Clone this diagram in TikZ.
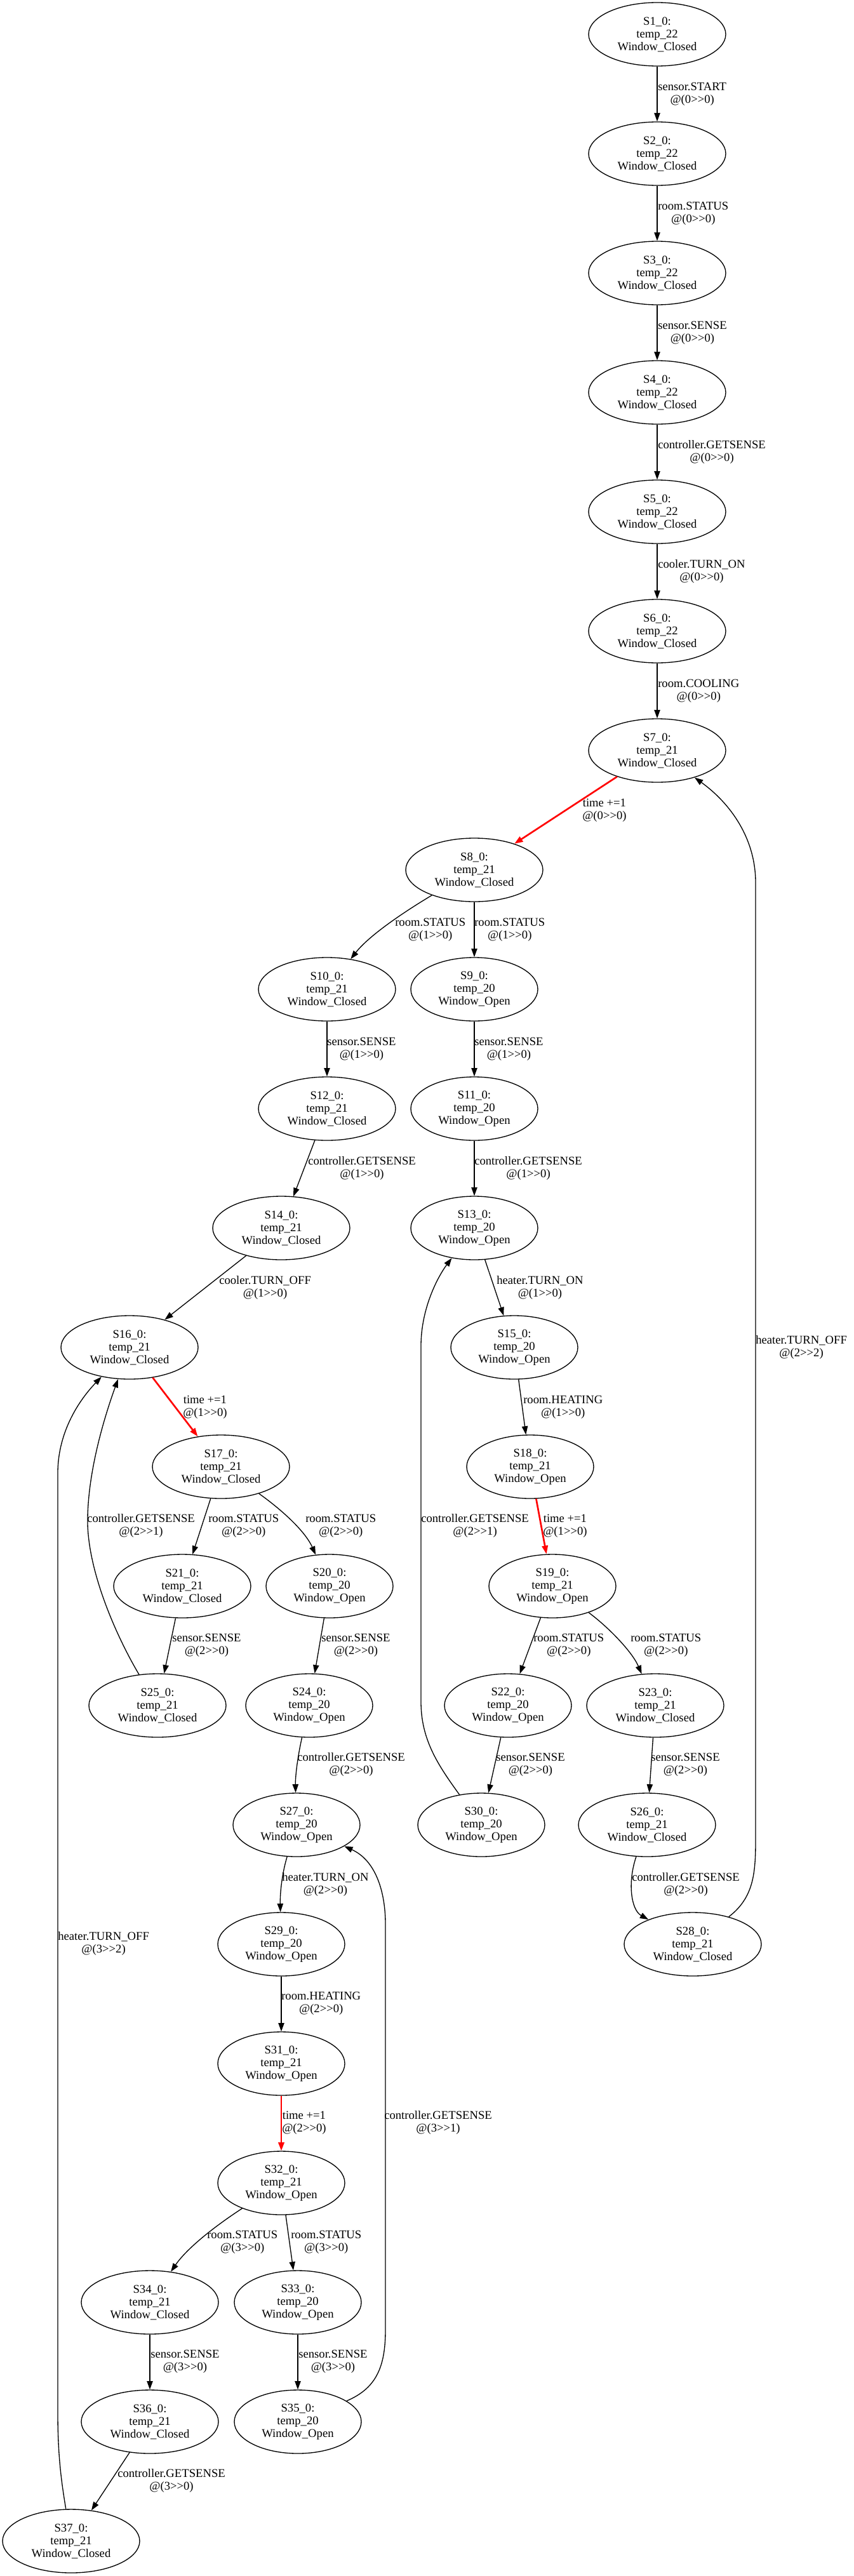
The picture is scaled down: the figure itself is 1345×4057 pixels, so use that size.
\documentclass[tikz,border=0pt]{standalone}
\usepackage{fontspec}
\setmainfont{Liberation Serif}
\usetikzlibrary{shapes.geometric,arrows.meta}
\newcommand\SN[5]{\node[#1] (n#2) at (#3) {S#2\_0:\\temp\_#4\\Window\_#5};}
\newcommand\LB[3]{\node[lbl] (#1) at (#2) {#3};}
\newcommand\at[2]{@(#1>\kern0pt>#2)}
\begin{document}
\begin{tikzpicture}[x=0.75pt,y=-0.75pt,
  every node/.style={font=\fontsize{14}{15}\selectfont},
  st/.style={ellipse,draw,line width=1pt,inner sep=0pt,minimum height=75pt,align=center},
  wc/.style={st,minimum width=162pt},
  wo/.style={st,minimum width=150pt},
  lbl/.style={anchor=west,align=center,inner sep=0pt},
  tr/.style={draw,line width=1pt,-{Triangle[length=10pt,width=7pt]}},
  tred/.style={draw=red,line width=2pt,-{Triangle[length=10pt,width=7pt]},fill=red}]
\useasboundingbox (0,0) rectangle (1345,4057);
% states
\SN{wc}{1}{1035,54}{22}{Closed}
\SN{wc}{2}{1035,242}{22}{Closed}
\SN{wc}{3}{1035,430}{22}{Closed}
\SN{wc}{4}{1035,618}{22}{Closed}
\SN{wc}{5}{1035,806}{22}{Closed}
\SN{wc}{6}{1035,994}{22}{Closed}
\SN{wc}{7}{1035,1182}{21}{Closed}
\SN{wc}{8}{747,1370}{21}{Closed}
\SN{wc}{10}{515,1558}{21}{Closed}
\SN{wo}{9}{747,1558}{20}{Open}
\SN{wc}{12}{515,1746}{21}{Closed}
\SN{wo}{11}{747,1746}{20}{Open}
\SN{wc}{14}{443,1934}{21}{Closed}
\SN{wo}{13}{747,1934}{20}{Open}
\SN{wc}{16}{204,2122}{21}{Closed}
\SN{wo}{15}{810,2122}{20}{Open}
\SN{wc}{17}{348,2310}{21}{Closed}
\SN{wo}{18}{835,2310}{21}{Open}
\SN{wc}{21}{287,2498}{21}{Closed}
\SN{wo}{20}{519,2498}{20}{Open}
\SN{wo}{19}{870,2498}{21}{Open}
\SN{wc}{25}{248,2686}{21}{Closed}
\SN{wo}{24}{487,2686}{20}{Open}
\SN{wo}{22}{800,2686}{20}{Open}
\SN{wc}{23}{1032,2686}{21}{Closed}
\SN{wo}{27}{467,2874}{20}{Open}
\SN{wo}{30}{758,2874}{20}{Open}
\SN{wc}{26}{1019,2874}{21}{Closed}
\SN{wo}{29}{443,3062}{20}{Open}
\SN{wc}{28}{1091,3062}{21}{Closed}
\SN{wo}{31}{443,3250}{21}{Open}
\SN{wo}{32}{443,3438}{21}{Open}
\SN{wc}{34}{236,3626}{21}{Closed}
\SN{wo}{33}{469,3626}{20}{Open}
\SN{wc}{36}{236,3814}{21}{Closed}
\SN{wo}{35}{469,3814}{20}{Open}
\SN{wc}{37}{112,4002}{21}{Closed}
% edges
\draw[tr] (n1) -- (n2);
\draw[tr] (n2) -- (n3);
\draw[tr] (n3) -- (n4);
\draw[tr] (n4) -- (n5);
\draw[tr] (n5) -- (n6);
\draw[tr] (n6) -- (n7);
\draw[tred] (n7) -- (n8);
\draw[tr] (n8) .. controls (630,1440) and (580,1475) .. (n10);
\draw[tr] (n8) -- (n9);
\draw[tr] (n10) -- (n12);
\draw[tr] (n9) -- (n11);
\draw[tr] (n12) -- (n14);
\draw[tr] (n11) -- (n13);
\draw[tr] (n14) -- (n16);
\draw[tr] (n13) -- (n15);
\draw[tred] (n16) -- (n17);
\draw[tr] (n15) -- (n18);
\draw[tr] (n17) -- (n21);
\draw[tr] (n17) .. controls (440,2375) and (480,2410) .. (n20);
\draw[tred] (n18) -- (n19);
\draw[tr] (n21) -- (n25);
\draw[tr] (n20) -- (n24);
\draw[tr] (n19) -- (n22);
\draw[tr] (n19) .. controls (955,2560) and (995,2600) .. (n23);
\draw[tr] (n24) .. controls (468,2770) and (465,2800) .. (n27);
\draw[tr] (n22) -- (n30);
\draw[tr] (n23) -- (n26);
\draw[tr] (n27) .. controls (443,2955) and (441,2985) .. (n29);
\draw[tr] (n26) .. controls (988,2965) and (994,3008) .. (n28);
\draw[tr] (n29) -- (n31);
\draw[tred] (n31) -- (n32);
\draw[tr] (n32) .. controls (340,3505) and (295,3540) .. (n34);
\draw[tr] (n32) -- (n33);
\draw[tr] (n34) -- (n36);
\draw[tr] (n33) -- (n35);
\draw[tr] (n36) -- (n37);
% back edges
\draw[tr] (n25) .. controls (185,2580) and (140,2480) .. (138,2400) .. controls (137,2320) and (165,2230) .. (n16);
\draw[tr] (n30) .. controls (690,2780) and (663,2740) .. (663,2680) -- (663,2120) .. controls (663,2060) and (690,2010) .. (n13);
\draw[tr] (n28) .. controls (1192,2985) and (1190,2940) .. (1190,2880) -- (1190,1390) .. controls (1190,1320) and (1150,1265) .. (n7);
\draw[tr] (n35) .. controls (591,3762) and (607,3730) .. (607,3670) -- (607,3030) .. controls (607,2980) and (592,2930) .. (n27);
\draw[tr] (n37) .. controls (97,3910) and (91,3870) .. (91,3800) -- (91,2320) .. controls (91,2260) and (120,2210) .. (n16);
% labels
\LB{l1}{1036,148}{sensor.START\\\at00}
\LB{l2}{1036,336}{room.STATUS\\\at00}
\LB{l3}{1036,524}{sensor.SENSE\\\at00}
\LB{l4}{1036,712}{controller.GETSENSE\\\at00}
\LB{l5}{1036,900}{cooler.TURN\_ON\\\at00}
\LB{l6}{1036,1088}{room.COOLING\\\at00}
\LB{l7}{917,1276}{time +=1\\\at00}
\LB{l8}{622,1464}{room.STATUS\\\at10}
\LB{l9}{747,1464}{room.STATUS\\\at10}
\LB{l10}{515,1652}{sensor.SENSE\\\at10}
\LB{l11}{747,1652}{sensor.SENSE\\\at10}
\LB{l12}{485,1840}{controller.GETSENSE\\\at10}
\LB{l13}{747,1840}{controller.GETSENSE\\\at10}
\LB{l14}{345,2028}{cooler.TURN\_OFF\\\at10}
\LB{l15}{782,2028}{heater.TURN\_ON\\\at10}
\LB{l16}{288,2216}{time +=1\\\at10}
\LB{l17}{824,2216}{room.HEATING\\\at10}
\LB{l18}{328,2403}{room.STATUS\\\at20}
\LB{l19}{481,2403}{room.STATUS\\\at20}
\LB{l20}{855,2403}{time +=1\\\at10}
\LB{l21}{137,2403}{controller.GETSENSE\\\at21}
\LB{l22}{663,2403}{controller.GETSENSE\\\at21}
\LB{l23}{1190,2122}{heater.TURN\_OFF\\\at22}
\LB{l24}{271,2591}{sensor.SENSE\\\at20}
\LB{l25}{506,2591}{sensor.SENSE\\\at20}
\LB{l26}{840,2591}{room.STATUS\\\at20}
\LB{l27}{993,2591}{room.STATUS\\\at20}
\LB{l28}{468,2779}{controller.GETSENSE\\\at20}
\LB{l29}{781,2779}{sensor.SENSE\\\at20}
\LB{l30}{1025,2779}{sensor.SENSE\\\at20}
\LB{l31}{444,2968}{heater.TURN\_ON\\\at20}
\LB{l32}{995,2968}{controller.GETSENSE\\\at20}
\LB{l33}{91,3061}{heater.TURN\_OFF\\\at32}
\LB{l34}{443,3155}{room.HEATING\\\at20}
\LB{l35}{444,3343}{time +=1\\\at20}
\LB{l36}{605,3343}{controller.GETSENSE\\\at31}
\LB{l37}{326,3531}{room.STATUS\\\at30}
\LB{l38}{458,3531}{room.STATUS\\\at30}
\LB{l39}{237,3719}{sensor.SENSE\\\at30}
\LB{l40}{470,3719}{sensor.SENSE\\\at30}
\LB{l41}{185,3907}{controller.GETSENSE\\\at30}
\end{tikzpicture}
\end{document}
